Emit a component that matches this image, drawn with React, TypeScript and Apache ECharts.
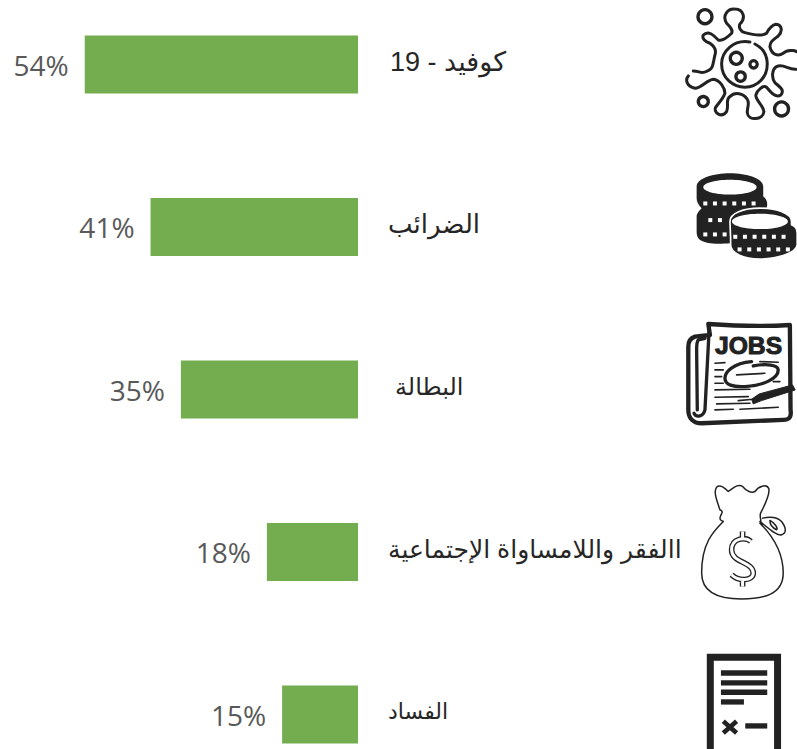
import React, { useEffect, useRef } from "react";
import * as echarts from "echarts";

const categories = ["كوفيد - 19", "الضرائب", "البطالة", "االفقر واللامساواة الإجتماعية", "الفساد"];
const values = [54, 41, 35, 18, 15];
const labelNudges = [2, 0, 7, 0, 0];
const labelSizes = [27, 26, 24, 25, 22];

const INK = "#222222";

const VIRUS =
  "M170 70C155 45 175 25 195 27C222 28 228 55 210 72C205 82 212 95 225 98C250 105 275 110 290 100C298 85 305 75 318 73C338 75 338 95 325 108C310 120 300 125 300 140C305 165 325 170 340 160C350 150 375 150 380 155" +
  "M378 208C355 210 340 190 320 200C305 210 305 235 315 248C330 262 345 270 333 285C318 295 305 280 290 262C280 255 262 270 258 285C255 300 280 315 282 335C280 360 235 365 232 338C232 320 240 310 232 298C220 280 195 275 180 290C165 300 178 315 170 335C155 355 130 340 137 322C150 305 160 295 165 280C165 265 150 240 130 238C110 240 95 265 75 265C50 260 45 240 55 228" +
  "M70 213C90 213 95 225 115 212C130 205 128 195 135 165C140 150 135 140 120 130C105 125 95 115 100 105C115 90 130 105 145 120C160 125 175 110 185 100C190 90 180 80 170 70";
const CELL =
  "M240 126C190 118 155 155 155 192C155 235 190 262 225 262C265 262 292 230 292 192C292 165 280 145 255 132";
const COINS_LEFT =
  "M80 560C80 535 130 520 180 520C230 520 280 535 280 560L280 590C295 600 295 620 285 635L290 640L290 700C280 730 130 740 100 725C85 720 80 710 80 695L80 650C80 640 90 630 95 625C85 615 80 605 80 595Z";
const COINS_RIGHT =
  "M180 665C180 640 220 625 270 625C320 625 365 640 365 665L365 675C378 680 382 690 382 700L382 735C380 760 320 778 270 778C220 778 182 760 182 735L182 715Z";
const PAPER_BACK =
  "M120 75L75 80C60 85 55 95 55 110L55 300C55 325 70 340 95 340L340 330C360 330 365 320 362 300L360 45C280 50 200 48 115 42Z";
const PAPER_SPINE = "M105 85L85 90C80 95 80 110 80 120L82 300M118 50L105 300C100 320 80 325 72 310";
const PAPER_LINES =
  "M135 160L165 158M135 180L160 180M135 200L155 200M135 220L160 220M135 240L240 238M135 262L235 260M140 282L240 280M135 300L190 298M210 298L325 292M205 272L250 268M200 195L285 190M270 155L325 157M310 215L330 215";
const CIRCLED =
  "M245 155C190 160 165 185 165 205C165 225 190 232 225 230C280 228 325 205 325 180C325 165 290 160 250 168";
const PENCIL = "M245 268L268 252L368 225L376 240L275 272L250 282Z";
const BAG =
  "M150 600C140 570 130 545 140 532C150 522 165 535 175 545C190 535 205 520 218 530C230 545 245 550 255 545C265 530 290 520 297 537C300 555 285 585 272 610C268 620 275 630 272 640" +
  "M150 600C165 605 150 615 150 625C150 632 155 632 160 635C130 665 95 700 95 790C95 850 150 868 215 868C280 868 340 855 340 790C340 730 310 680 270 640" +
  "M278 625C300 620 320 620 335 635C350 655 350 670 335 675C320 680 290 650 270 635M300 632C315 640 325 655 320 660C310 655 300 645 300 632";
const DOLLAR =
  "M243 695C225 680 185 685 185 720C185 760 250 755 250 790C250 815 205 815 185 795M218 665L218 688M218 808L218 830";
const DOC_MARK = "M160 1235L200 1270M200 1235L160 1270";

function shape(name: string, d: string) {
  echarts.graphic.registerShape(name, echarts.graphic.extendPath(d as any, {}) as any);
}
shape("virusPath", VIRUS);
shape("cellPath", CELL);
shape("coinsLeft", COINS_LEFT);
shape("coinsRight", COINS_RIGHT);
shape("paperBack", PAPER_BACK);
shape("paperSpine", PAPER_SPINE);
shape("paperLines", PAPER_LINES);
shape("circled", CIRCLED);
shape("pencil", PENCIL);
shape("bag", BAG);
shape("dollar", DOLLAR);
shape("docMark", DOC_MARK);

const line = (w: number) => ({ fill: "none", stroke: INK, lineWidth: w, lineCap: "round", lineJoin: "round" });
const ring = (cx: number, cy: number, r: number, w = 10) => ({
  type: "circle",
  shape: { cx, cy, r },
  style: { fill: "none", stroke: INK, lineWidth: w },
});
const whiteEllipse = (cx: number, cy: number, rx: number, ry: number) => ({
  type: "ellipse",
  shape: { cx, cy, rx, ry },
  style: { fill: "#fff" },
});
const notches = (y: number, from: number, count: number, gap: number, h = 12) =>
  Array.from({ length: count }, (_, i) => ({
    type: "rect",
    shape: { x: from + i * gap, y, width: 12, height: h },
    style: { fill: "#fff" },
  }));
const bar = (x: number, y: number, width: number, height = 16) => ({
  type: "rect",
  shape: { x, y, width, height },
  style: { fill: INK },
});

const icons = [
  { type: "virusPath", style: line(9) },
  { type: "cellPath", style: line(9) },
  ring(199, 175, 18),
  ring(251, 193, 11),
  ring(212, 230, 14),
  ring(105, 50, 21),
  ring(100, 305, 15),
  ring(335, 327, 21),
  { type: "coinsLeft", style: { fill: INK } },
  whiteEllipse(180, 562, 80, 22),
  ...notches(605, 100, 6, 29),
  ...notches(655, 115, 2, 29),
  ...notches(698, 100, 3, 29),
  { type: "coinsRight", style: { fill: INK, stroke: "#fff", lineWidth: 5 } },
  whiteEllipse(270, 665, 84, 23),
  ...notches(705, 190, 6, 29),
  ...notches(743, 203, 6, 29),
];

const iconsLower = [
  { type: "paperBack", style: { ...line(13), fill: "#fff" } },
  { type: "paperSpine", style: line(10) },
  {
    type: "text",
    x: 135,
    y: 70,
    style: { text: "JOBS", font: "bold 74px 'Liberation Sans'", fill: INK, stroke: INK, lineWidth: 3 },
  },
  { type: "paperLines", style: line(5) },
  { type: "circled", style: line(10) },
  { type: "pencil", style: { fill: INK, stroke: INK, lineWidth: 3 } },
  { type: "bag", style: line(4.5) },
  { type: "dollar", style: { ...line(17), lineCap: "butt" } },
  { type: "dollar", style: { ...line(9), stroke: "#fff", lineCap: "butt" } },
  {
    type: "rect",
    shape: { x: 121, y: 1043, width: 202, height: 300 },
    style: { fill: "none", stroke: INK, lineWidth: 21 },
  },
  bar(153, 1082, 139),
  bar(153, 1112, 139),
  bar(153, 1140, 139),
  bar(153, 1169, 69),
  bar(226, 1241, 66),
  { type: "docMark", style: { fill: "none", stroke: INK, lineWidth: 14 } },
];

export default function App() {
  const ref = useRef<HTMLDivElement>(null);
  useEffect(() => {
    const chart = echarts.init(ref.current!, null, { renderer: "svg" });
    chart.setOption({
      animation: false,
      backgroundColor: "#fff",
      grid: { left: 3.8, width: 354.2, top: -16.75, height: 812.5, outerBoundsMode: "none" },
      xAxis: { type: "value", inverse: true, min: 0, max: 70, show: false },
      yAxis: {
        type: "category",
        inverse: true,
        position: "right",
        data: categories.map((value, i) => ({
          value,
          textStyle: {
            padding: [0, 0, 0, labelNudges[i]],
            fontSize: labelSizes[i],
            verticalAlign: "bottom",
            lineHeight: 6,
          },
        })),
        axisLine: { show: false },
        axisTick: { show: false },
        axisLabel: {
          margin: 30,
          align: "left",
          verticalAlign: "bottom",
          lineHeight: 6,
          fontFamily: "'Liberation Sans','DejaVu Sans'",
          fontSize: 25,
          color: "#262626",
        },
      },
      series: [
        {
          type: "bar",
          data: values,
          barWidth: 58,
          itemStyle: { color: "#74AD50" },
          label: {
            show: true,
            position: "left",
            distance: 16,
            formatter: "{c}%",
            fontFamily: "'Open Sans'",
            fontSize: 28,
            color: "#595959",
          },
        },
      ],
      graphic: [
        { type: "group", x: 670, y: 0, scaleX: 1 / 3, scaleY: 1 / 3, children: icons },
        { type: "group", x: 670, y: 310, scaleX: 1 / 3, scaleY: 1 / 3, children: iconsLower },
      ],
    });
    return () => chart.dispose();
  }, []);
  return <div ref={ref} style={{ position: "fixed", left: 0, top: 0, width: 797, height: 749 }} />;
}
